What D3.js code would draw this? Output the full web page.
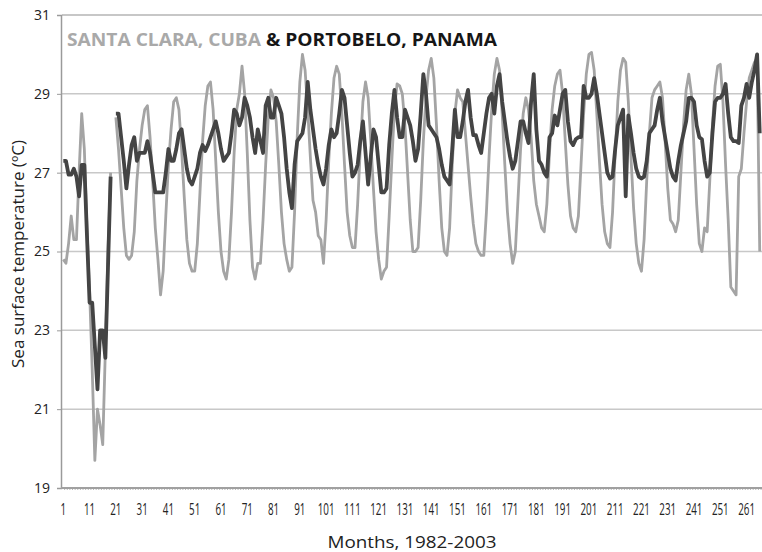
<!DOCTYPE html>
<html>
<head>
<meta charset="utf-8">
<script src="https://cdn.jsdelivr.net/npm/d3@7"></script>
<style>
    body { margin: 0; background: #fff; }
    svg { display: block; }
</style>
</head>
<body>
<div id="sst-graph"></div>
<script>
// monthly sea surface temperature, 1982-2003
// null = no reading that month
const santaClara = [
    24.8, 24.7, 25.2, 25.9, 25.3, 25.3, 27.0, 28.5, 27.6, 25.6,
    24.0, 22.0, 19.7, 21.0, 20.6, 20.1, 22.5, 25.0, 27.0, null,
    28.4, 27.6, 26.6, 25.6, 24.9, 24.8, 24.9, 25.5, 26.8, 27.6,
    28.2, 28.6, 28.7, 27.9, 26.8, 25.6, 24.8, 23.9, 24.5, 25.9,
    27.2, 28.1, 28.8, 28.9, 28.6, 27.6, 26.4, 25.3, 24.7, 24.5,
    24.5, 25.2, 26.5, 27.8, 28.7, 29.2, 29.3, 28.6, 27.3, 26.0,
    25.0, 24.5, 24.3, 24.8, 26.0, 27.5, 28.6, 29.0, 29.7, 29.0,
    27.5, 25.8, 24.6, 24.3, 24.7, 24.7, 25.8, 27.2, 28.4, 29.1,
    28.9, 28.3, 27.2, 26.0, 25.2, 24.8, 24.5, 24.6, 26.0, 27.9,
    29.3, 30.0, 29.6, 28.6, 27.4, 26.3, 26.0, 25.4, 25.3, 24.7,
    25.8, 27.3, 28.5, 29.4, 29.7, 29.5, 28.5, 27.2, 26.0, 25.4,
    25.1, 25.1, 26.2, 27.6, 28.8, 29.3, 28.9, 27.8, 26.6, 25.5,
    24.8, 24.3, 24.5, 24.6, 25.9, 27.3, 28.6, 29.25, 29.2, 29.0,
    28.2, 27.0, 25.8, 25.0, 25.0, 25.1, 26.3, 27.8, 28.9, 29.6,
    29.9, 29.4, 28.2, 26.8, 25.6, 25.0, 24.9, 25.6, 27.2, 28.5,
    29.1, 28.9, 28.8, 28.0, 27.2, 26.4, 25.7, 25.2, 25.0, 24.9,
    24.9, 26.0, 27.4, 28.6, 29.5, 29.9, 29.6, 28.5, 27.2, 26.0,
    25.2, 24.7, 25.0, 26.3, 27.6, 28.5, 28.9, 28.6, 27.9, 26.8,
    26.2, 25.9, 25.6, 25.5, 26.2, 27.5, 28.6, 29.2, 29.5, 29.6,
    29.0, 27.8, 26.7, 25.9, 25.6, 25.5, 25.9, 27.2, 28.5, 29.5,
    30.0, 30.05, 29.6, 28.5, 27.3, 26.2, 25.5, 25.2, 25.1, 26.0,
    27.5, 28.8, 29.6, 29.9, 29.8, 28.8, 27.4, 26.1, 25.2, 24.7,
    24.5, 25.3, 26.8, 28.0, 28.9, 29.1, 29.2, 29.3, 28.9, 27.8,
    26.6, 25.8, 25.7, 25.5, 25.8, 27.0, 28.2, 29.1, 29.5, 29.0,
    27.6, 26.2, 25.2, 25.0, 25.6, 25.5, 26.8, 28.2, 29.2, 29.7,
    29.75, 28.8, 27.2, 25.8, 24.1, 24.0, 23.9, 26.9, 27.1, 28.0,
    28.8, 29.4, 29.6, 29.8, 29.9, 25.0
]

const portobelo = [
    27.3, 27.3, 26.95, 26.95, 27.1, 26.9, 26.4, 27.2, 27.2, 25.4,
    23.7, 23.7, 22.6, 21.5, 23.0, 23.0, 22.3, 24.6, 26.9, null,
    28.5, 28.5, 27.9, 27.3, 26.6, 27.2, 27.7, 27.9, 27.3, 27.5,
    27.5, 27.5, 27.8, 27.5, 27.0, 26.5, 26.5, 26.5, 26.5, 27.0,
    27.6, 27.3, 27.3, 27.6, 28.0, 28.1, 27.6, 27.1, 26.8, 26.7,
    26.9, 27.1, 27.5, 27.7, 27.55, 27.7, 27.9, 28.1, 28.3, 28.0,
    27.6, 27.3, 27.4, 27.5, 28.0, 28.6, 28.5, 28.2, 28.4, 28.9,
    28.7, 28.4, 27.9, 27.5, 28.1, 27.8, 27.5, 28.7, 28.9, 28.4,
    28.4, 28.9, 28.7, 28.5, 27.9, 27.1, 26.5, 26.1, 27.2, 27.8,
    27.9, 28.0, 28.4, 29.3, 28.6, 28.1, 27.6, 27.2, 26.9, 26.7,
    27.1, 27.7, 28.1, 27.9, 28.0, 28.5, 29.1, 28.9, 28.2, 27.5,
    26.9, 27.0, 27.2, 27.8, 28.3, 27.5, 26.7, 27.4, 28.1, 27.9,
    27.2, 26.5, 26.5, 26.6, 27.7, 28.5, 29.1, 28.4, 27.9, 27.9,
    28.6, 28.4, 28.2, 27.8, 27.3, 27.6, 28.5, 29.5, 29.0, 28.2,
    28.1, 28.0, 27.9, 27.6, 27.2, 26.9, 26.8, 26.7, 27.6, 28.6,
    27.9, 27.9, 28.3, 28.8, 29.1, 28.4, 27.95, 27.95, 27.7, 27.5,
    28.0, 28.5, 28.9, 29.0, 28.5, 29.2, 29.5, 28.8, 28.3, 27.8,
    27.4, 27.1, 27.3, 27.8, 28.3, 28.3, 28.0, 27.75, 28.8, 29.5,
    28.1, 27.3, 27.2, 27.0, 26.9, 27.9, 28.0, 28.45, 28.2, 28.6,
    29.0, 29.1, 28.3, 27.8, 27.7, 27.85, 27.9, 27.9, 29.2, 28.9,
    28.9, 29.0, 29.4, 29.0, 28.5, 28.0, 27.5, 27.0, 26.85, 26.9,
    27.6, 28.2, 28.4, 28.6, 26.4, 28.45, 28.0, 27.5, 27.1, 26.9,
    26.85, 26.9, 27.3, 28.0, 28.1, 28.2, 28.6, 28.9, 28.3, 27.9,
    27.5, 27.1, 26.9, 26.8, 27.3, 27.7, 28.0, 28.3, 28.9, 28.9,
    28.8, 28.2, 27.9, 27.85, 27.3, 26.9, 27.0, 28.0, 28.8, 28.9,
    28.9, 29.0, 29.25, 28.5, 27.9, 27.8, 27.8, 27.75, 28.7, 28.9,
    29.25, 28.9, 29.3, 29.6, 30.0, 28.0
]

// month numbers shown under the axis, and the temperature gridlines
const monthTicks = [1, 11, 21, 31, 41, 51, 61, 71, 81, 91, 101, 111, 121, 131,
    141, 151, 161, 171, 181, 191, 201, 211, 221, 231, 241, 251, 261]
const tempTicks = [19, 21, 23, 25, 27, 29, 31]

function drawSstChart(d3, id) {
    var width = 762
    var height = 552
    // category width in px - the chart is cropped on the right in the print
    var step = 2.628
    var left = 62
    var top = 15
    var bottom = 488
    var nShown = 270

    var x = d3.scaleLinear()
        .domain([0.5, nShown + 0.5])
        .range([left, left + nShown * step])
    var y = d3.scaleLinear()
        .domain([19, 31])
        .range([bottom, top])

    var svg = d3.select(document.getElementById(id))
        .append('svg')
        .attr('width', width)
        .attr('height', height)

    // horizontal gridlines
    svg.append('g')
        .selectAll('line')
        .data(tempTicks.filter(t => t > 19))
        .enter()
        .append('line')
        .attr('x1', left)
        .attr('x2', width)
        .attr('y1', d => y(d))
        .attr('y2', d => y(d))
        .attr('stroke', d => d === 31 ? '#b4b4b4' : '#c8c8c8')
        .attr('stroke-width', 1.5)

    // y axis
    var yAxis = svg.append('g')
        .attr('transform', `translate(${left - 1},0)`)
        .call(d3.axisLeft(y).tickValues(tempTicks).tickSize(4).tickPadding(7))
    yAxis.select('.domain').attr('stroke', '#9a9a9a').attr('stroke-width', 1.5)
    yAxis.selectAll('.tick line').attr('stroke', '#9a9a9a')
    yAxis.selectAll('text')
        .attr('font-family', 'Open Sans, sans-serif')
        .attr('font-size', 14)
        .attr('fill', '#222')

    // x axis: one small tick per month, labels every 10 months
    var months = d3.range(1, nShown + 1)
    svg.append('g')
        .selectAll('line')
        .data(months)
        .enter()
        .append('line')
        .attr('x1', d => x(d + 0.5))
        .attr('x2', d => x(d + 0.5))
        .attr('y1', bottom - 1)
        .attr('y2', bottom + 2)
        .attr('stroke', '#b8b8b8')
        .attr('stroke-width', 1)
    svg.append('line')
        .attr('x1', left - 1)
        .attr('x2', width)
        .attr('y1', bottom)
        .attr('y2', bottom)
        .attr('stroke', '#a0a0a0')
        .attr('stroke-width', 2.2)

    // labels are squeezed like the condensed face in the print
    svg.append('g')
        .selectAll('text')
        .data(monthTicks)
        .enter()
        .append('text')
        .attr('x', d => x(d))
        .attr('y', 515)
        .attr('text-anchor', 'middle')
        .attr('font-family', 'Open Sans, sans-serif')
        .attr('font-size', 16)
        .attr('fill', '#222')
        .attr('textLength', d => String(d).length * 5.6)
        .attr('lengthAdjust', 'spacingAndGlyphs')
        .text(d => d)

    // the two series
    var line = d3.line()
        .defined(d => d[1] !== null)
        .x(d => x(d[0]))
        .y(d => y(d[1]))

    var series = [
        { name: 'Santa Clara, Cuba', values: santaClara, color: '#a4a4a4', w: 2.8 },
        { name: 'Portobelo, Panama', values: portobelo, color: '#444', w: 3.8 }
    ]
    svg.append('g')
        .selectAll('path')
        .data(series)
        .enter()
        .append('path')
        .attr('d', s => line(s.values.map((v, i) => [i + 1, v])))
        .attr('fill', 'none')
        .attr('stroke', s => s.color)
        .attr('stroke-width', s => s.w)
        .attr('stroke-linejoin', 'round')

    // title doubles as the legend
    var title = svg.append('text')
        .attr('x', 67)
        .attr('y', 46)
        .attr('font-family', 'Open Sans, sans-serif')
        .attr('font-weight', 'bold')
        .attr('font-size', 18)
        .attr('textLength', 430)
        .attr('lengthAdjust', 'spacingAndGlyphs')
    title.append('tspan').attr('fill', '#a9a9a9').text('SANTA CLARA, CUBA ')
    title.append('tspan').attr('fill', '#161616').text('& PORTOBELO, PANAMA')

    svg.append('text')
        .attr('transform', 'translate(24,254) rotate(-90)')
        .attr('text-anchor', 'middle')
        .attr('font-family', 'Open Sans, sans-serif')
        .attr('font-size', 16.5)
        .attr('fill', '#222')
        .attr('textLength', 228)
        .attr('lengthAdjust', 'spacingAndGlyphs')
        .text('Sea surface temperature (ºC)')

    svg.append('text')
        .attr('x', 412)
        .attr('y', 548)
        .attr('text-anchor', 'middle')
        .attr('font-family', 'Open Sans, sans-serif')
        .attr('font-size', 17)
        .attr('fill', '#222')
        .attr('textLength', 169)
        .attr('lengthAdjust', 'spacingAndGlyphs')
        .text('Months, 1982-2003')
}

drawSstChart(d3, 'sst-graph')
</script>
</body>
</html>
